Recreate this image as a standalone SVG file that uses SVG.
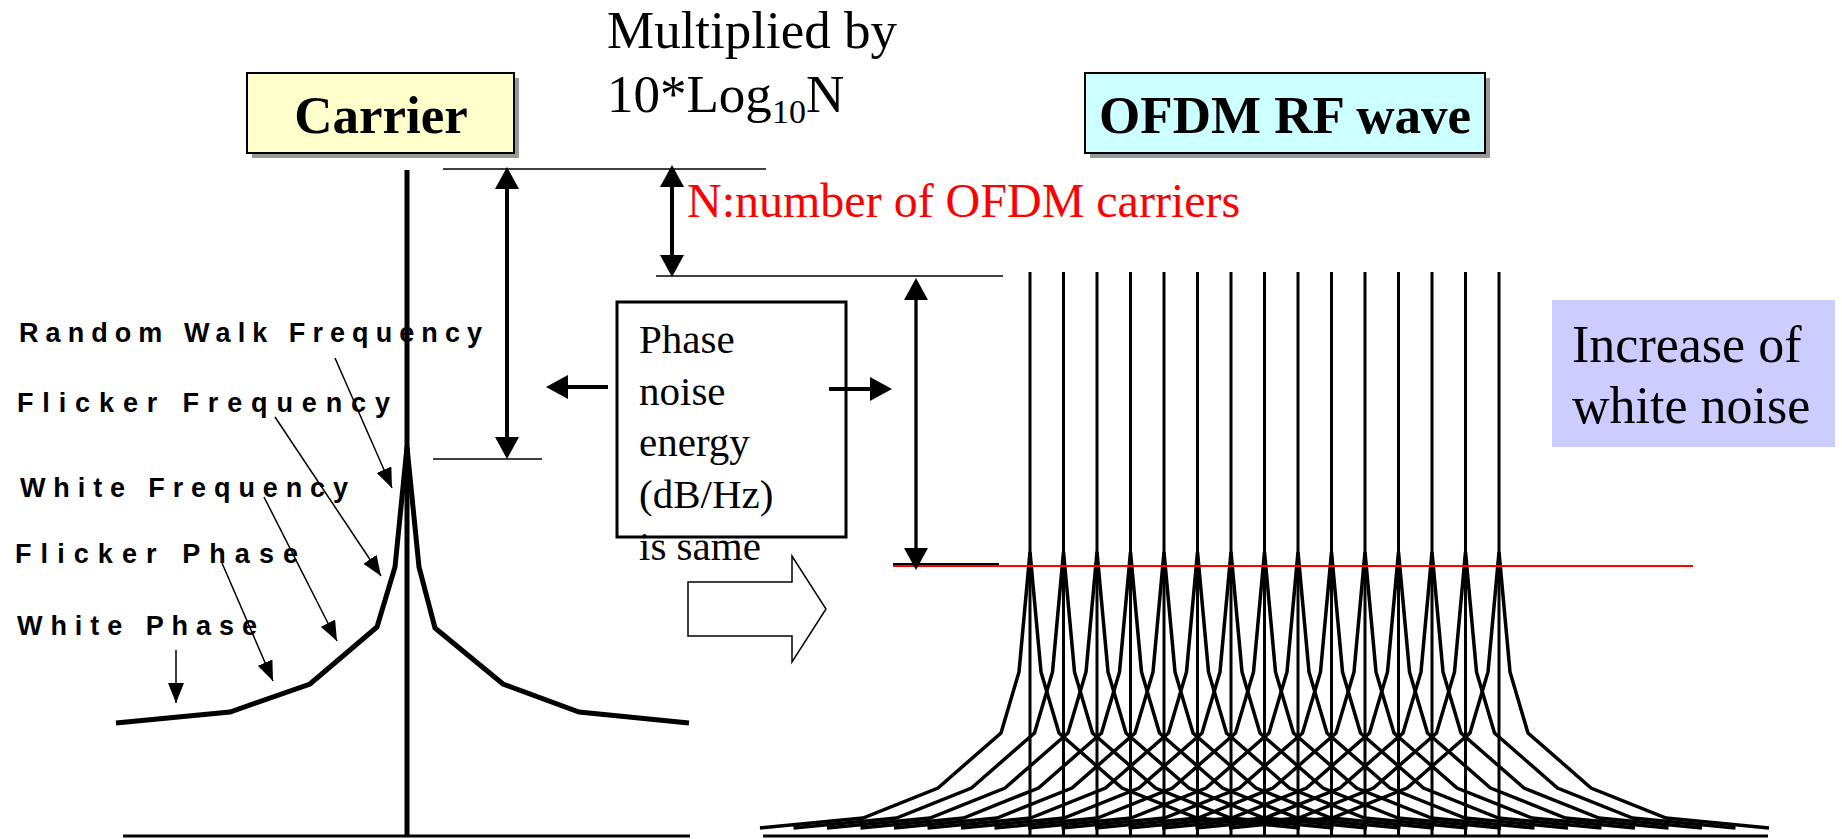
<svg xmlns="http://www.w3.org/2000/svg" width="1842" height="839" viewBox="0 0 1842 839">
<style>
.serif{font-family:"Liberation Serif","Times New Roman",serif;fill:#000}
.lbl{font-family:"Liberation Sans",Arial,sans-serif;font-weight:bold;font-size:27px;fill:#000}
.thin{stroke:#000;stroke-width:1.5;fill:none}
.dim{stroke:#000;stroke-width:4;fill:none}
.ptr{stroke:#000;stroke-width:1.5;fill:none}
.curve{stroke:#000;stroke-width:5;fill:none;stroke-linejoin:miter;stroke-miterlimit:3}
.ocurve{stroke:#000;stroke-width:3.5;fill:none;stroke-linejoin:miter;stroke-miterlimit:3}
.carr{stroke:#000;stroke-width:3;fill:none}
</style>
<defs>
<marker id="ah" viewBox="0 0 22 24" refX="12" refY="12" markerWidth="22" markerHeight="24" markerUnits="userSpaceOnUse" orient="auto-start-reverse">
<path d="M0,0 L22,12 L0,24 Z" fill="#000"/>
</marker>
<marker id="ap" viewBox="0 0 20 16" refX="20" refY="8" markerWidth="20" markerHeight="16" markerUnits="userSpaceOnUse" orient="auto">
<path d="M0,0 L20,8 L0,16 Z" fill="#000"/>
</marker>
<path id="oshape" class="ocurve" d="M-270,276 L-167,266 L-92,236 L-29,181 L-11,120 L0,0 L11,120 L29,181 L92,236 L167,266 L270,276"/>
</defs>
<rect width="1842" height="839" fill="#fff"/>

<g id="title-multiplied">
<text class="serif" x="607" y="48" font-size="53">Multiplied by</text>
<text class="serif" x="607" y="112" font-size="53">10*Log<tspan font-size="34" dy="11">10</tspan><tspan dy="-11">N</tspan></text>
</g>

<g id="carrier-box">
<rect x="252" y="78" width="267" height="80" fill="#999"/>
<rect x="247" y="73" width="267" height="80" fill="#FFFFCC" stroke="#000" stroke-width="2"/>
<text class="serif" x="381" y="133" font-size="53" font-weight="bold" text-anchor="middle">Carrier</text>
</g>

<g id="ofdm-box">
<rect x="1090" y="78" width="400" height="80" fill="#999"/>
<rect x="1085" y="73" width="400" height="80" fill="#CCFFFF" stroke="#000" stroke-width="2"/>
<text class="serif" x="1285" y="133" font-size="53" font-weight="bold" text-anchor="middle">OFDM RF wave</text>
</g>

<g id="n-label">
<text class="serif" x="687" y="217" font-size="48" style="fill:#FF0000">N:number of OFDM carriers</text>
</g>

<g id="white-noise-box">
<rect x="1552" y="300" width="283" height="147" fill="#CCCCFF"/>
<text class="serif" x="1572" y="362" font-size="52">Increase of</text>
<text class="serif" x="1572" y="423" font-size="52">white noise</text>
</g>

<g id="phase-noise-box">
<rect x="617" y="302" width="229" height="235" fill="none" stroke="#000" stroke-width="3"/>
<text class="serif" font-size="41"><tspan x="639" y="353">Phase</tspan><tspan x="639" y="405">noise</tspan><tspan x="639" y="456">energy</tspan><tspan x="639" y="508">(dB/Hz)</tspan><tspan x="639" y="560">is same</tspan></text>
</g>

<g id="block-arrow">
<path d="M688,582 L792,582 L792,556 L826,609 L792,662 L792,636 L688,636 Z" fill="#fff" stroke="#000" stroke-width="1.5"/>
</g>

<g id="labels">
<text class="lbl" x="19" y="342" textLength="463" lengthAdjust="spacing">Random Walk Frequency</text>
<text class="lbl" x="17" y="412" textLength="373" lengthAdjust="spacing">Flicker Frequency</text>
<text class="lbl" x="20" y="497" textLength="328" lengthAdjust="spacing">White Frequency</text>
<text class="lbl" x="15" y="563" textLength="283" lengthAdjust="spacing">Flicker Phase</text>
<text class="lbl" x="17" y="635" textLength="240" lengthAdjust="spacing">White Phase</text>
</g>

<g id="carrier-spectrum">
<line x1="407" y1="170" x2="407" y2="836" stroke="#000" stroke-width="5"/>
<polyline class="curve" points="116,723 230,712 310,684 377,627 395,567 407,447 419,567 435,628 503,684 579,712 689,723"/>
<line x1="123" y1="836" x2="690" y2="836" stroke="#000" stroke-width="3"/>
</g>

<g id="ofdm-spectrum">
<g id="ofdm-carriers">
<line class="carr" x1="1030" y1="272" x2="1030" y2="836"/>
<line class="carr" x1="1063.5" y1="272" x2="1063.5" y2="836"/>
<line class="carr" x1="1097" y1="272" x2="1097" y2="836"/>
<line class="carr" x1="1130.5" y1="272" x2="1130.5" y2="836"/>
<line class="carr" x1="1164" y1="272" x2="1164" y2="836"/>
<line class="carr" x1="1197.5" y1="272" x2="1197.5" y2="836"/>
<line class="carr" x1="1231" y1="272" x2="1231" y2="836"/>
<line class="carr" x1="1264.5" y1="272" x2="1264.5" y2="836"/>
<line class="carr" x1="1298" y1="272" x2="1298" y2="836"/>
<line class="carr" x1="1331.5" y1="272" x2="1331.5" y2="836"/>
<line class="carr" x1="1365" y1="272" x2="1365" y2="836"/>
<line class="carr" x1="1398.5" y1="272" x2="1398.5" y2="836"/>
<line class="carr" x1="1432" y1="272" x2="1432" y2="836"/>
<line class="carr" x1="1465.5" y1="272" x2="1465.5" y2="836"/>
<line class="carr" x1="1499" y1="272" x2="1499" y2="836"/>
</g>
<g id="ofdm-noise">
<use href="#oshape" x="1030" y="552"/>
<use href="#oshape" x="1063.5" y="552"/>
<use href="#oshape" x="1097" y="552"/>
<use href="#oshape" x="1130.5" y="552"/>
<use href="#oshape" x="1164" y="552"/>
<use href="#oshape" x="1197.5" y="552"/>
<use href="#oshape" x="1231" y="552"/>
<use href="#oshape" x="1264.5" y="552"/>
<use href="#oshape" x="1298" y="552"/>
<use href="#oshape" x="1331.5" y="552"/>
<use href="#oshape" x="1365" y="552"/>
<use href="#oshape" x="1398.5" y="552"/>
<use href="#oshape" x="1432" y="552"/>
<use href="#oshape" x="1465.5" y="552"/>
<use href="#oshape" x="1499" y="552"/>
</g>
<line x1="763" y1="836" x2="1768" y2="836" stroke="#000" stroke-width="3"/>
</g>

<g id="connectors">
<line class="thin" x1="443" y1="169" x2="766" y2="169"/>
<line class="thin" x1="433" y1="459" x2="542" y2="459"/>
<line class="thin" x1="656" y1="276" x2="1003" y2="276"/>
<line x1="893" y1="564" x2="999" y2="564" stroke="#000" stroke-width="2"/>
<line x1="893" y1="566" x2="1693" y2="566" stroke="#FF0000" stroke-width="2"/>
<line class="dim" x1="507" y1="177" x2="507" y2="449" marker-start="url(#ah)" marker-end="url(#ah)"/>
<line class="dim" x1="672" y1="175" x2="672" y2="267" marker-start="url(#ah)" marker-end="url(#ah)"/>
<line class="dim" style="stroke-width:3.3" x1="916" y1="288" x2="916" y2="560" marker-start="url(#ah)" marker-end="url(#ah)"/>
<line class="dim" x1="608" y1="387" x2="556" y2="387" marker-end="url(#ah)"/>
<line class="dim" x1="829" y1="389" x2="882" y2="389" marker-end="url(#ah)"/>
<line class="ptr" x1="335" y1="358" x2="392" y2="488" marker-end="url(#ap)"/>
<line class="ptr" x1="275" y1="417" x2="381" y2="576" marker-end="url(#ap)"/>
<line class="ptr" x1="264" y1="497" x2="337" y2="641" marker-end="url(#ap)"/>
<line class="ptr" x1="222" y1="563" x2="273" y2="681" marker-end="url(#ap)"/>
<line class="ptr" x1="176" y1="650" x2="176" y2="703" marker-end="url(#ap)"/>
</g>
</svg>
